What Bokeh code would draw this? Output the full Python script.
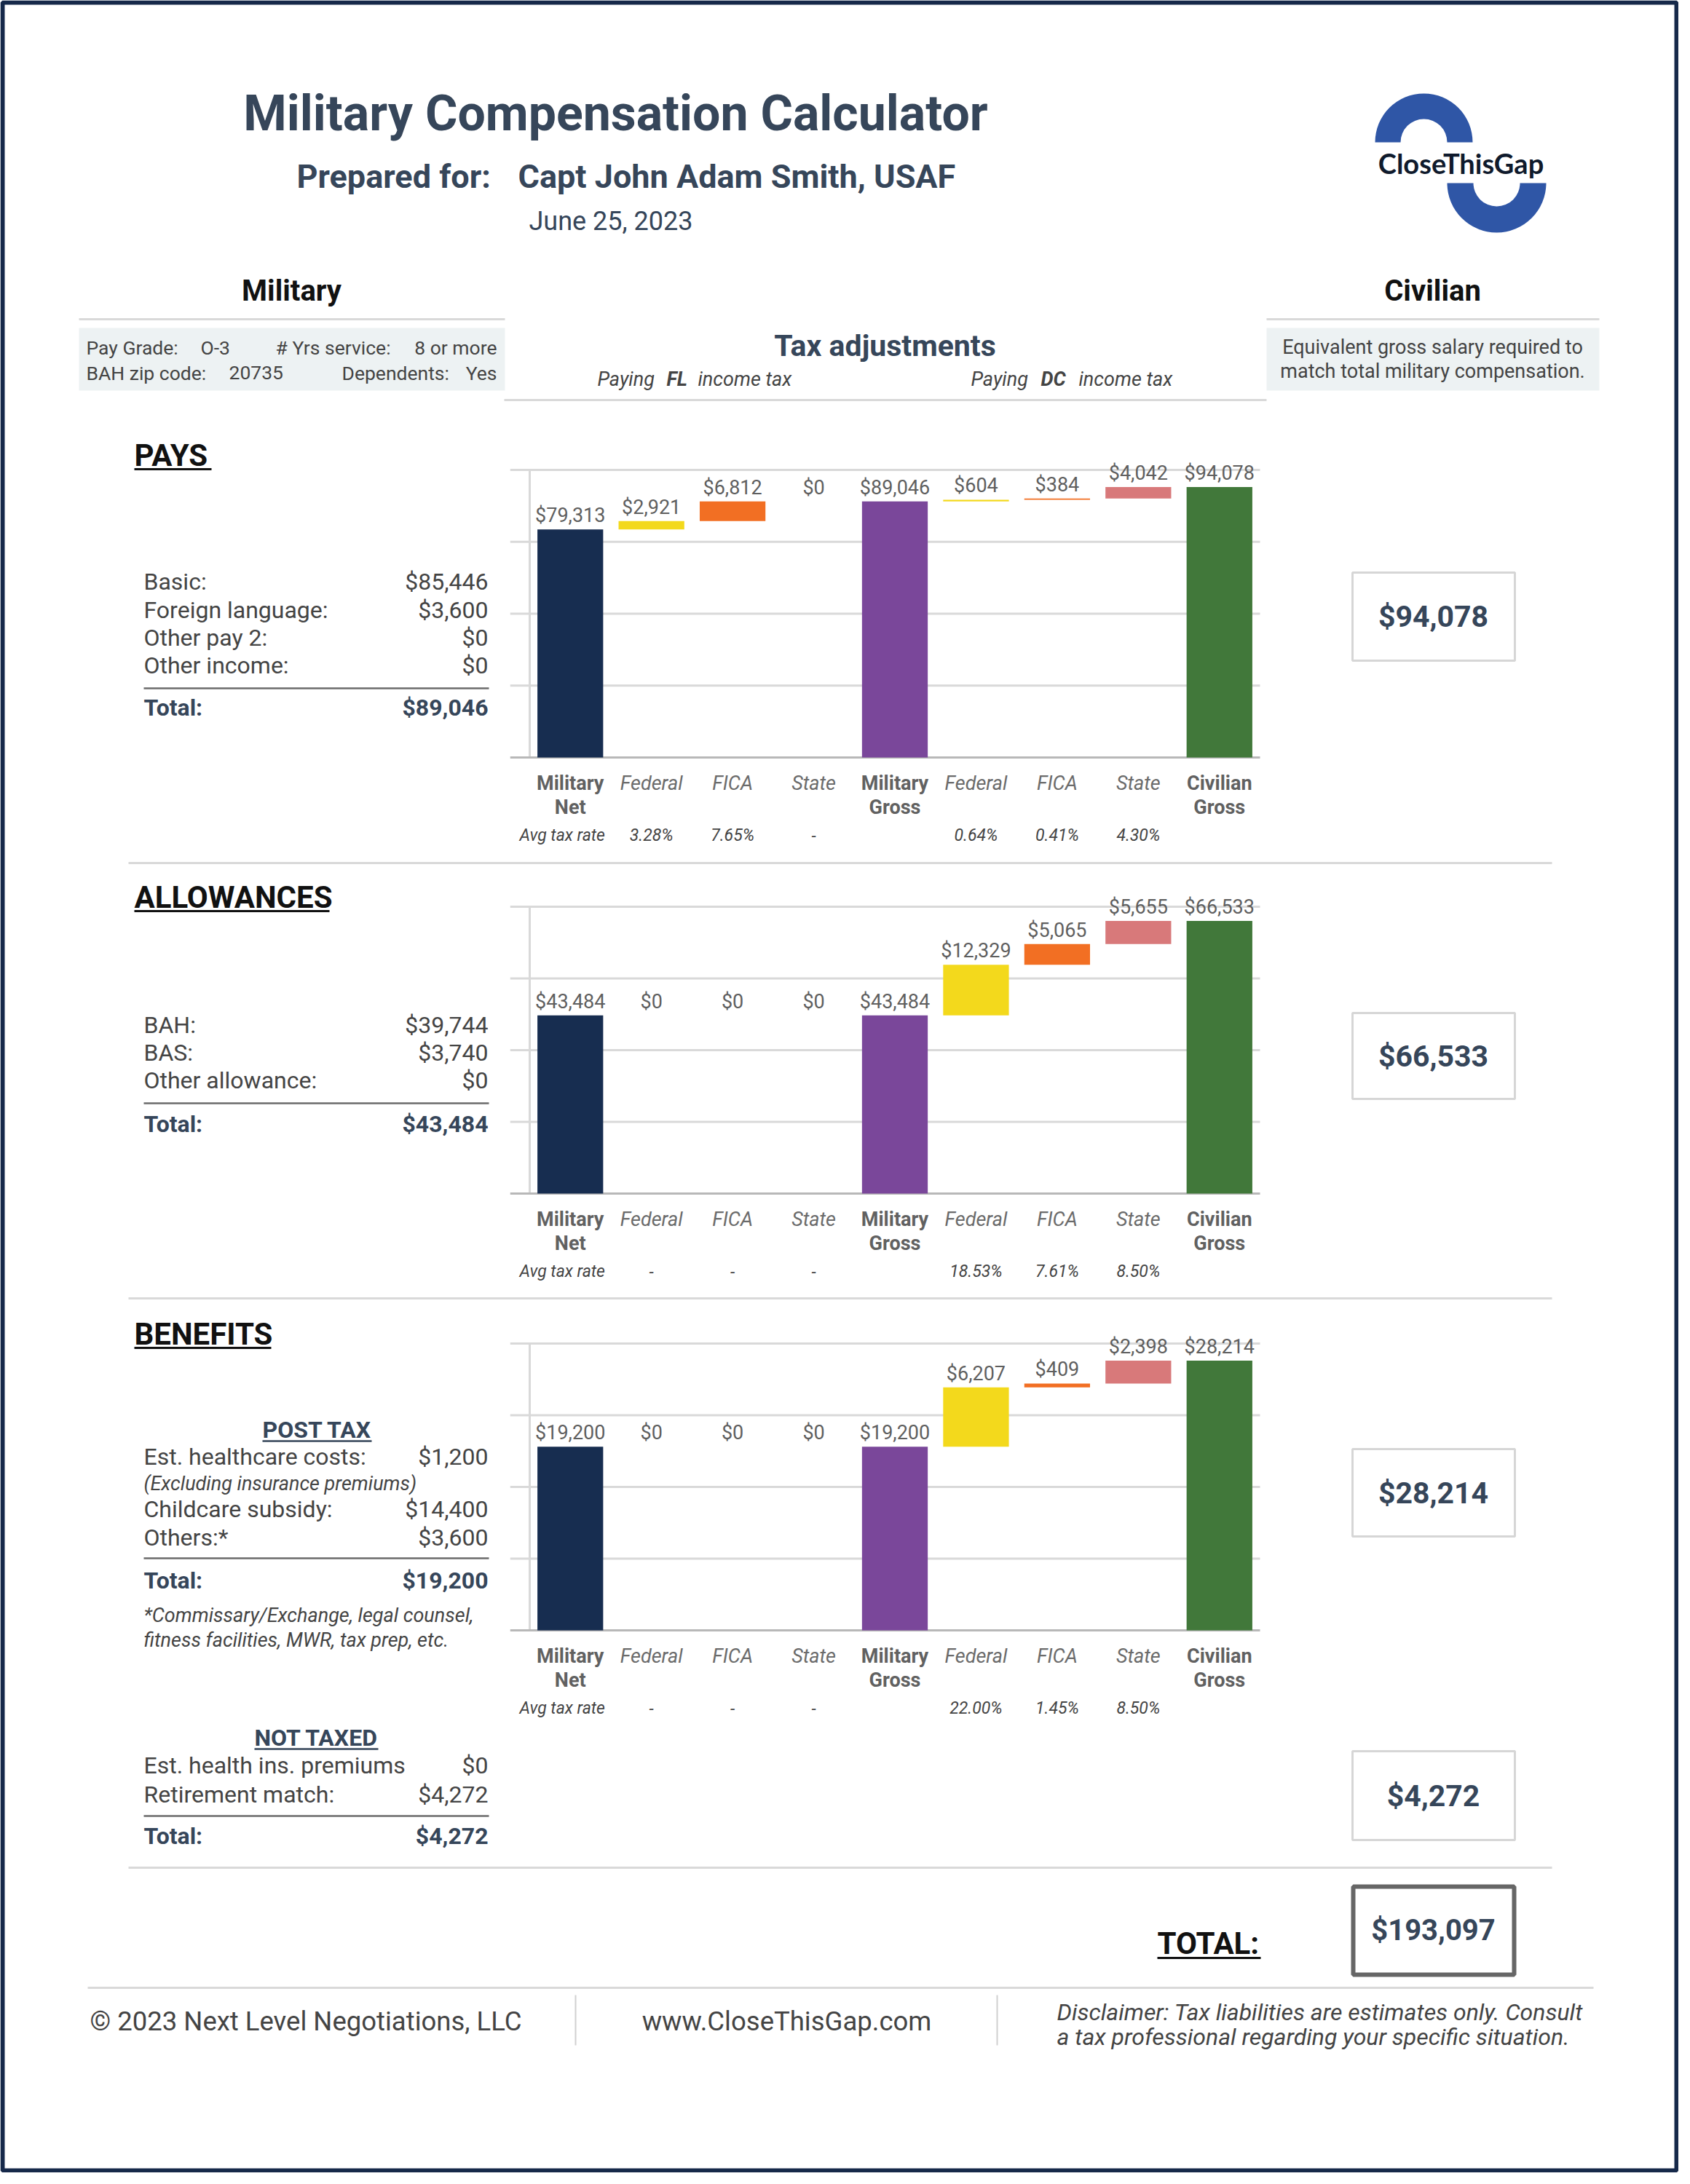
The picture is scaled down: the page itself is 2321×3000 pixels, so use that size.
from bokeh.plotting import figure
from bokeh.models import Range1d
from bokeh.core.properties import value
from bokeh.embed import file_html
from bokeh.resources import INLINE

# ---------------- data ----------------
title_text = "Military Compensation Calculator"
prepared_label = "Prepared for:"
prepared_name = "Capt John Adam Smith, USAF"
report_date = "June 25, 2023"

pay_grade = "O-3"
years_service = "8 or more"
bah_zip = "20735"
dependents = "Yes"

cat_line1 = ["Military", "Federal", "FICA", "State", "Military", "Federal", "FICA", "State", "Civilian"]
cat_line2 = ["Net", "", "", "", "Gross", "", "", "", "Gross"]
is_total = [True, False, False, False, True, False, False, False, True]

pays_values = [79313, 2921, 6812, 0, 89046, 604, 384, 4042, 94078]
allow_values = [43484, 0, 0, 0, 43484, 12329, 5065, 5655, 66533]
benefit_values = [19200, 0, 0, 0, 19200, 6207, 409, 2398, 28214]

pays_rates = ["", "3.28%", "7.65%", "-", "", "0.64%", "0.41%", "4.30%", ""]
allow_rates = ["", "-", "-", "-", "", "18.53%", "7.61%", "8.50%", ""]
benefit_rates = ["", "-", "-", "-", "", "22.00%", "1.45%", "8.50%", ""]

axis_max = [100000, 70000, 30000]

pays_labels = ["Basic:", "Foreign language:", "Other pay 2:", "Other income:"]
pays_amounts = [85446, 3600, 0, 0]
pays_total = 89046

allow_labels = ["BAH:", "BAS:", "Other allowance:"]
allow_amounts = [39744, 3740, 0]
allow_total = 43484

post_tax_labels = ["Est. healthcare costs:", "Childcare subsidy:", "Others:*"]
post_tax_amounts = [1200, 14400, 3600]
post_tax_total = 19200

not_taxed_labels = ["Est. health ins. premiums", "Retirement match:"]
not_taxed_amounts = [0, 4272]
not_taxed_total = 4272

civilian_values = [94078, 66533, 28214, 4272]
grand_total = 193097

# ---------------- styles ----------------
bar_colors = ["#172d50", "#f3d91c", "#f26f23", "#d8797a", "#7a479a",
              "#f3d91c", "#f26f23", "#d8797a", "#41783a"]
SLATE = "#36465a"
GREY_TXT = "#444444"
LABEL_GREY = "#616161"
LINE_GREY = "#d9d9d9"
CAP = 0.355  # half cap-height as fraction of font size

W, H = 2305, 2984
p = figure(width=W, height=H, x_range=Range1d(8, 8 + W), y_range=Range1d(8, 8 + H),
           output_backend="svg", toolbar_location=None, min_border=0,
           x_axis_location=None, y_axis_location=None)
p.grid.visible = False
p.outline_line_color = None
p.background_fill_color = "white"
p.border_fill_color = "white"


def Y(y):
    return 3000 - y


def txt(x, y, s, size, color=GREY_TXT, style="normal", align="left", font="Roboto"):
    # y is the text baseline (image coordinates); anchor on the cap-height centre
    p.text(x=[x], y=[Y(y - CAP * size)], text=[s], text_font=value(font),
           text_font_size=f"{size}px", text_font_style=style,
           text_color=color, text_align=align, text_baseline="middle")


def hline(x0, x1, y, color=LINE_GREY, width=3):
    p.segment(x0=[x0], x1=[x1], y0=[Y(y)], y1=[Y(y)], line_color=color, line_width=width)


def money(v):
    return f"${v:,}"


# ---------------- page border ----------------
p.quad(left=[11], right=[2310], top=[Y(11)], bottom=[Y(2989)],
       fill_color=None, line_color="#16294a", line_width=6)

# ---------------- header ----------------
txt(853, 188, title_text, 68, SLATE, "bold", "center")
txt(415, 266, prepared_label, 45, SLATE, "bold")
txt(719, 266, prepared_name, 45, SLATE, "bold")
txt(734, 324, report_date, 36, SLATE)

# logo
p.annular_wedge(x=[1963], y=[Y(203)], inner_radius=32, outer_radius=67,
                start_angle=0, end_angle=3.14159265, fill_color="#2f56a6", line_color=None)
p.annular_wedge(x=[2063], y=[Y(259)], inner_radius=32, outer_radius=68,
                start_angle=3.14159265, end_angle=2 * 3.14159265, fill_color="#2f56a6", line_color=None)
txt(2014, 245, "CloseThisGap", 38, "#0f1a2c", "bold", "center", font="Lato")

# column headers
txt(408, 421, "Military", 40, "#111111", "bold", "center")
txt(1975, 421, "Civilian", 40, "#111111", "bold", "center")
hline(116, 701, 446)
hline(1747, 2204, 446)
p.quad(left=[116], right=[701], top=[Y(458)], bottom=[Y(544)], fill_color="#edf2f3", line_color=None)
p.quad(left=[1747], right=[2204], top=[Y(458)], bottom=[Y(544)], fill_color="#edf2f3", line_color=None)

txt(126, 494, "Pay Grade:", 26.5)
txt(283, 494, pay_grade, 26.5)
txt(386, 494, "# Yrs service:", 26.5)
txt(690, 494, years_service, 26.5, align="right")
txt(126, 529, "BAH zip code:", 26.5)
txt(322, 529, bah_zip, 26.5)
txt(477, 529, "Dependents:", 26.5)
txt(690, 529, dependents, 26.5, align="right")

txt(1975, 494, "Equivalent gross salary required to", 27, align="center")
txt(1975, 527, "match total military compensation.", 27, align="center")

txt(1223, 497, "Tax adjustments", 41, SLATE, "bold", "center")
txt(828, 538, "Paying", 27, GREY_TXT, "italic")
txt(923, 538, "FL", 27, GREY_TXT, "bold italic")
txt(966, 538, "income tax", 27, GREY_TXT, "italic")
txt(1341, 538, "Paying", 27, GREY_TXT, "italic")
txt(1437, 538, "DC", 27, GREY_TXT, "bold italic")
txt(1489, 538, "income tax", 27, GREY_TXT, "italic")
hline(700, 1747, 557)

# ---------------- section separators ----------------
for yy in (1193, 1791, 2573):
    hline(184, 2139, yy)
hline(128, 2196, 2738)


# ---------------- waterfall charts ----------------
def waterfall(vals):
    bottoms, tops = [], []
    run = 0
    for v, tot in zip(vals, is_total):
        if tot:
            b, t = 0, v
        else:
            b, t = run, run + v
        bottoms.append(b)
        tops.append(t)
        run = t
    return bottoms, tops


CH_L, CH_R = 735, 1738
chart_frames = [(653, 1048), (1253, 1647), (1853, 2247)]
series = [pays_values, allow_values, benefit_values]
rates_all = [pays_rates, allow_rates, benefit_rates]

for vals, rates, ymax, (top_px, base_px) in zip(series, rates_all, axis_max, chart_frames):
    n = len(vals)
    sub = p.subplot(x_source=Range1d(0, n), y_source=Range1d(0, ymax),
                    x_target=Range1d(CH_L, CH_R), y_target=Range1d(Y(base_px), Y(top_px)))
    ticks = [ymax * k / 4 for k in range(1, 5)]
    sub.segment(x0=[-0.24] * 4, x1=[n] * 4, y0=ticks, y1=ticks, line_color=LINE_GREY, line_width=3)
    sub.segment(x0=[0], x1=[0], y0=[0], y1=[ymax], line_color=LINE_GREY, line_width=3)
    sub.segment(x0=[-0.24], x1=[n], y0=[0], y1=[0], line_color="#b8b8b8", line_width=3)

    bottoms, tops = waterfall(vals)
    xs = [i + 0.5 for i in range(n)]
    sub.vbar(x=xs, bottom=bottoms, top=tops, width=0.81, fill_color=bar_colors, line_color=None)
    sub.text(x=xs, y=tops, text=[money(v) for v in vals], text_font=value("Roboto"),
             text_font_size="27px", text_color="#5f5f5f", text_align="center",
             text_baseline="middle", y_offset=-19)

    tx = [x for x, t in zip(xs, is_total) if t]
    sub.text(x=tx, y=[0] * len(tx), text=[c for c, t in zip(cat_line1, is_total) if t],
             text_font=value("Roboto"), text_font_size="27px", text_font_style="bold",
             text_color=LABEL_GREY, text_align="center", text_baseline="middle", y_offset=35)
    sub.text(x=tx, y=[0] * len(tx), text=[c for c, t in zip(cat_line2, is_total) if t],
             text_font=value("Roboto"), text_font_size="27px", text_font_style="bold",
             text_color=LABEL_GREY, text_align="center", text_baseline="middle", y_offset=68)
    ix = [x for x, t in zip(xs, is_total) if not t]
    sub.text(x=ix, y=[0] * len(ix), text=[c for c, t in zip(cat_line1, is_total) if not t],
             text_font=value("Roboto"), text_font_size="27px", text_font_style="italic",
             text_color="#6b6b6b", text_align="center", text_baseline="middle", y_offset=35)
    sub.text(x=[xs[0]], y=[0], text=["Avg tax rate"], text_font=value("Roboto"),
             text_font_size="23px", text_font_style="italic", text_color=GREY_TXT,
             text_align="center", text_baseline="middle", x_offset=-11, y_offset=107)
    rx = [x for x, r in zip(xs, rates) if r]
    sub.text(x=rx, y=[0] * len(rx), text=[r for r in rates if r], text_font=value("Roboto"),
             text_font_size="23px", text_font_style="italic", text_color=GREY_TXT,
             text_align="center", text_baseline="middle", y_offset=107)


# ---------------- left panels ----------------
def heading(x, y, s, x_end, size=42, color="#111111"):
    txt(x, y, s, size, color, "bold")
    hline(x, x_end, y + 4, color, 3)


def rows(labels, amounts, baselines, size=32):
    for lab, amt, yy in zip(labels, amounts, baselines):
        txt(205, yy, lab, size)
        txt(678, yy, money(amt), size, align="right")


def total_row(y_line, y_text, amount):
    hline(205, 679, y_line, "#6b6b6b", 2.5)
    txt(205, y_text, "Total:", 32, SLATE, "bold")
    txt(678, y_text, money(amount), 32, SLATE, "bold", "right")


heading(192, 648, "PAYS", 298)
rows(pays_labels, pays_amounts, [818, 856.5, 894.5, 933])
total_row(953, 991, pays_total)

heading(192, 1255, "ALLOWANCES", 460)
rows(allow_labels, allow_amounts, [1427, 1465, 1503])
total_row(1523, 1563, allow_total)

heading(192, 1855, "BENEFITS", 380)
txt(368, 1983, "POST TAX", 32, SLATE, "bold")
hline(368, 518, 1987, SLATE, 2.5)
rows(post_tax_labels[:1], post_tax_amounts[:1], [2020])
txt(205, 2055, "(Excluding insurance premiums)", 27, GREY_TXT, "italic")
rows(post_tax_labels[1:], post_tax_amounts[1:], [2092, 2131])
total_row(2148, 2190, post_tax_total)
txt(205, 2236, "*Commissary/Exchange, legal counsel,", 27, GREY_TXT, "italic")
txt(205, 2270, "fitness facilities, MWR, tax prep, etc.", 27, GREY_TXT, "italic")

txt(357, 2406, "NOT TAXED", 32, SLATE, "bold")
hline(357, 527, 2410, SLATE, 2.5)
rows(not_taxed_labels, not_taxed_amounts, [2444, 2484])
total_row(2502, 2541, not_taxed_total)

# ---------------- right boxes ----------------
box_tops = [794, 1399, 1998, 2413]
box_bots = [915, 1517, 2118, 2535]
for v, bt, bb in zip(civilian_values, box_tops, box_bots):
    p.quad(left=[1865], right=[2088], top=[Y(bt)], bottom=[Y(bb)], fill_color="white",
           line_color="#d6d6d6", line_width=3)
    txt(1976, (bt + bb) / 2 + 15, money(v), 41, SLATE, "bold", "center")

p.quad(left=[1866], right=[2087], top=[Y(2599)], bottom=[Y(2720)], fill_color="white",
       line_color="#666666", line_width=6)
txt(1976, 2673, money(grand_total), 40, SLATE, "bold", "center")
txt(1597, 2692, "TOTAL:", 42, "#111111", "bold")
hline(1597, 1739, 2697, "#111111", 3)

# ---------------- footer ----------------
txt(131, 2797, "\u00a9 2023 Next Level Negotiations, LLC", 36.5)
p.segment(x0=[798, 1377], x1=[798, 1377], y0=[Y(2748)] * 2, y1=[Y(2817)] * 2,
          line_color="#d0d0d0", line_width=2)
txt(1088, 2797, "www.CloseThisGap.com", 36.5, align="center")
txt(1459, 2783, "Disclaimer: Tax liabilities are estimates only. Consult", 32, GREY_TXT, "italic")
txt(1459, 2817, "a tax professional regarding your specific situation.", 32, GREY_TXT, "italic")

open("out.html", "w").write(file_html(p, INLINE))
